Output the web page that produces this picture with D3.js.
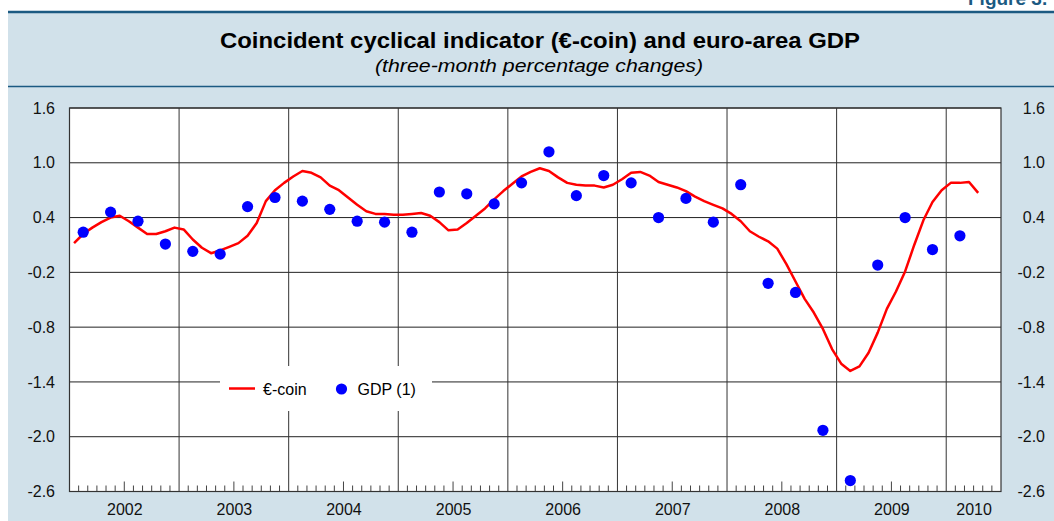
<!DOCTYPE html>
<html>
<head>
<meta charset="utf-8">
<script src="https://cdn.jsdelivr.net/npm/d3@7"></script>
<style>
body { margin: 0; background: #fff; }
text { font-family: "Liberation Sans", Arial, Helvetica, sans-serif; }
</style>
</head>
<body>
<script>
// Width and height
var w = 1054;
var h = 521;

// year labels on the x axis
var years = [2002, 2003, 2004, 2005, 2006, 2007, 2008, 2009, 2010];
// €-coin, monthly values from Jan 2002 to Apr 2010
var coinValues = [
    0.12, 0.22, 0.29, 0.35, 0.40, 0.42, 0.36, 0.29, 0.22, 0.22, 0.25, 0.29,
    0.27, 0.16, 0.07, 0.01, 0.04, 0.08, 0.12, 0.20, 0.34, 0.58, 0.70, 0.78,
    0.85, 0.91, 0.89, 0.84, 0.75, 0.70, 0.62, 0.54, 0.47, 0.44, 0.44, 0.43,
    0.43, 0.44, 0.45, 0.42, 0.35, 0.26, 0.27, 0.34, 0.42, 0.50, 0.60, 0.69,
    0.77, 0.85, 0.90, 0.94, 0.91, 0.84, 0.78, 0.76, 0.75, 0.75, 0.73, 0.76,
    0.82, 0.89, 0.90, 0.86, 0.79, 0.76, 0.73, 0.69, 0.63, 0.58, 0.54, 0.50,
    0.44, 0.36, 0.25, 0.19, 0.14, 0.06, -0.11, -0.30, -0.49, -0.64, -0.82, -1.04,
    -1.20, -1.28, -1.23, -1.08, -0.86, -0.60, -0.41, -0.19, 0.10, 0.37, 0.57, 0.70,
    0.78, 0.78, 0.79, 0.67
];
// GDP (1), quarterly values from 2002 Q1 to 2010 Q1
var gdpValues = [
    0.24, 0.46, 0.36, 0.11, 0.03, 0.00, 0.52, 0.62,
    0.58, 0.49, 0.36, 0.35, 0.24, 0.68, 0.66, 0.55,
    0.78, 1.12, 0.64, 0.86, 0.78, 0.40, 0.61, 0.35,
    0.76, -0.32, -0.42, -1.93, -2.48, -0.12, 0.40, 0.05,
    0.20
];
var yTicks = [1.6, 1.0, 0.4, -0.2, -0.8, -1.4, -2.0, -2.6];

var navy = "#1b5a82";
var months = (years.length - 1) * 12 + 6;   // Jan 2002 .. Jul 2010

var svg = d3.select("body").append("svg")
    .attr("width", w)
    .attr("height", h);

var x = d3.scaleLinear()
    .domain([0, months])
    .range([69.5, 1001]);
var y = d3.scaleLinear()
    .domain([-2.6, 1.6])
    .range([491.5, 108]);

// panel
svg.append("rect")
    .attr("x", 8).attr("y", 12)
    .attr("width", w - 8).attr("height", h - 12)
    .style("fill", "#d1e1ea");
svg.append("line")
    .attr("x1", 8).attr("x2", w).attr("y1", 12).attr("y2", 12)
    .style("stroke", navy).style("stroke-width", 2.5);
svg.append("line")
    .attr("x1", 8).attr("x2", w).attr("y1", 86.5).attr("y2", 86.5)
    .style("stroke", navy).style("stroke-width", 1.5);

svg.append("text")
    .attr("x", 968).attr("y", 5)
    .attr("font-size", "19px").attr("font-weight", "bold")
    .style("fill", navy)
    .text("Figure 3.");

// titles
svg.append("text")
    .attr("x", 540).attr("y", 48)
    .attr("text-anchor", "middle")
    .attr("font-size", "22px").attr("font-weight", "bold")
    .attr("textLength", 640).attr("lengthAdjust", "spacingAndGlyphs")
    .text("Coincident cyclical indicator (€-coin) and euro-area GDP");
svg.append("text")
    .attr("x", 539).attr("y", 71.5)
    .attr("text-anchor", "middle")
    .attr("font-size", "18px").attr("font-style", "italic")
    .attr("textLength", 328).attr("lengthAdjust", "spacingAndGlyphs")
    .text("(three-month percentage changes)");

// plot area
svg.append("rect")
    .attr("x", x(0)).attr("y", y(1.6))
    .attr("width", x(months) - x(0)).attr("height", y(-2.6) - y(1.6))
    .style("fill", "#fff");

var grid = svg.append("g");
grid.selectAll(".hgrid")
    .data(yTicks)
    .enter().append("line")
    .attr("x1", x(0)).attr("x2", x(months))
    .attr("y1", d => y(d)).attr("y2", d => y(d))
    .style("stroke", "#222").style("stroke-width", 1);
grid.selectAll(".vgrid")
    .data(years.slice(1))
    .enter().append("line")
    .attr("x1", (d, i) => x((i + 1) * 12)).attr("x2", (d, i) => x((i + 1) * 12))
    .attr("y1", y(1.6)).attr("y2", y(-2.6))
    .style("stroke", "#333").style("stroke-width", 1);

// monthly ticks on the bottom axis
grid.selectAll(".mtick")
    .data(d3.range(1, months).filter(m => m % 12 != 0))
    .enter().append("line")
    .attr("x1", d => x(d)).attr("x2", d => x(d))
    .attr("y1", y(-2.6)).attr("y2", d => y(-2.6) - (d % 12 == 6 ? 10 : 6))
    .style("stroke", "#444").style("stroke-width", 1);

// legend box hides the gridlines behind it
svg.append("rect")
    .attr("x", 220).attr("y", 366)
    .attr("width", 212).attr("height", 45)
    .style("fill", "#fff");

svg.append("rect")
    .attr("x", x(0)).attr("y", y(1.6))
    .attr("width", x(months) - x(0)).attr("height", y(-2.6) - y(1.6))
    .style("fill", "none").style("stroke", "#333").style("stroke-width", 1.2);

// axes
var yLeft = d3.axisLeft(y).tickValues(yTicks).tickSize(0).tickPadding(0)
    .tickFormat(d => d.toFixed(1));
svg.append("g")
    .attr("transform", "translate(55, 0)")
    .call(yLeft)
    .call(g => g.select(".domain").remove())
    .selectAll("text").attr("font-size", "16px").style("fill", "#111");
svg.append("g")
    .attr("transform", "translate(1045, 0)")
    .call(yLeft)
    .call(g => g.select(".domain").remove())
    .selectAll("text").attr("font-size", "16px").style("fill", "#111");

var xAxis = d3.axisBottom(x)
    .tickValues(years.map((d, i) => Math.min(i * 12 + 6, (i * 12 + months) / 2)))
    .tickFormat((d, i) => years[i])
    .tickSize(0).tickPadding(12);
svg.append("g")
    .attr("transform", "translate(0," + y(-2.6) + ")")
    .call(xAxis)
    .call(g => g.select(".domain").remove())
    .selectAll("text").attr("font-size", "16px").style("fill", "#111");

// €-coin line
var line = d3.line()
    .x((d, i) => x(i + 0.5))
    .y(d => y(d));
svg.append("path")
    .datum(coinValues)
    .attr("d", line)
    .style("fill", "none")
    .style("stroke", "#ff0000")
    .style("stroke-width", 2.5)
    .style("stroke-linejoin", "round");

// GDP dots, placed in the middle month of each quarter
svg.selectAll(".dot")
    .data(gdpValues)
    .enter().append("circle")
    .attr("cx", (d, i) => x(i * 3 + 1.5))
    .attr("cy", d => y(d))
    .attr("r", 5.6)
    .style("fill", "#0000ff");

// Legend
var legend = svg.append("g");
legend.append("line")
    .attr("x1", 229).attr("x2", 255).attr("y1", 388.5).attr("y2", 388.5)
    .style("stroke", "#ff0000").style("stroke-width", 2.5);
legend.append("text")
    .attr("x", 263).attr("y", 394.5)
    .attr("font-size", "16px")
    .text("€-coin");
legend.append("circle")
    .attr("cx", 341.5).attr("cy", 389).attr("r", 5.6)
    .style("fill", "#0000ff");
legend.append("text")
    .attr("x", 357.5).attr("y", 394.5)
    .attr("font-size", "16px")
    .text("GDP (1)");
</script>
</body>
</html>
